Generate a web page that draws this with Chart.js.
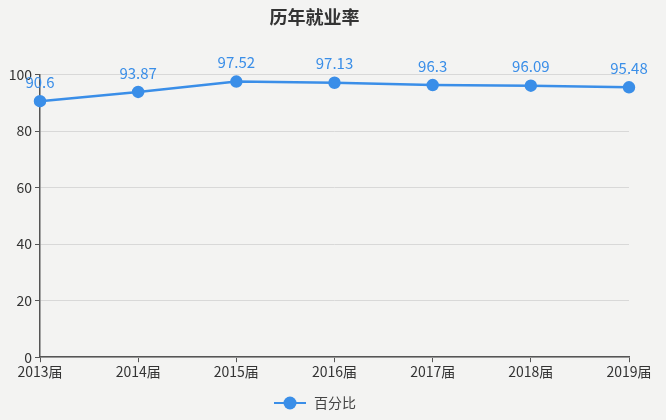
<!DOCTYPE html>
<html>
<head>
<meta charset="utf-8">
<script src="https://cdn.jsdelivr.net/npm/chart.js@4/dist/chart.umd.min.js"></script>
<style>
  html, body { margin: 0; padding: 0; background: #f3f3f2; }
  #wrap { width: 666px; height: 420px; }
</style>
</head>
<body>
<div id="wrap"><canvas id="rateChart" width="666" height="420"></canvas></div>
<script>
// datos
const years = ['2013届', '2014届', '2015届', '2016届', '2017届', '2018届', '2019届'];
const rates = [90.6, 93.87, 97.52, 97.13, 96.3, 96.09, 95.48];
const yTicks = [0, 20, 40, 60, 80, 100];

const blue = '#3a8ee8';
const font = "'Noto Sans CJK SC', 'Noto Sans', sans-serif";

// icono de leyenda: línea con círculo
const legendIcon = document.createElement('canvas');
legendIcon.width = 32;
legendIcon.height = 16;
(function() {
    const c = legendIcon.getContext('2d');
    c.strokeStyle = blue;
    c.lineWidth = 2;
    c.beginPath();
    c.moveTo(0, 8);
    c.lineTo(32, 8);
    c.stroke();
    c.fillStyle = blue;
    c.beginPath();
    c.arc(16, 8, 6.5, 0, Math.PI * 2);
    c.fill();
})();

// etiquetas de valor encima de cada punto
const valueLabels = {
    id: 'valueLabels',
    afterDatasetsDraw(chart) {
        const ctx = chart.ctx;
        const meta = chart.getDatasetMeta(0);
        ctx.save();
        ctx.font = '15px ' + font;
        ctx.fillStyle = blue;
        ctx.textAlign = 'center';
        ctx.textBaseline = 'middle';
        meta.data.forEach(function(pt, i) {
            ctx.fillText(String(rates[i]), pt.x, pt.y - 19);
        });
        ctx.restore();
    }
};

new Chart(document.getElementById('rateChart'), {
    type: 'line',
    data: {
        labels: years,
        datasets: [{
            label: '百分比',
            data: rates,
            borderColor: blue,
            backgroundColor: blue,
            borderWidth: 2.5,
            pointRadius: 5,
            pointHoverRadius: 5,
            tension: 0
        }]
    },
    options: {
        responsive: false,
        animation: false,
        layout: { padding: { left: 0, right: 37, top: 0, bottom: 0 } },
        plugins: {
            title: {
                display: true,
                text: '历年就业率',
                color: '#333',
                font: { family: font, size: 18, weight: 'bold' },
                padding: { top: 6, bottom: 47 }
            },
            legend: {
                position: 'bottom',
                labels: {
                    color: '#444',
                    font: { family: font, size: 14 },
                    usePointStyle: true,
                    pointStyleWidth: 34,
                    padding: 15,
                    generateLabels: function(chart) {
                        return [{
                            text: '百分比',
                            pointStyle: legendIcon,
                            fillStyle: blue,
                            strokeStyle: blue,
                            lineWidth: 0,
                            fontColor: '#444',
                            datasetIndex: 0
                        }];
                    }
                }
            },
            tooltip: { enabled: false }
        },
        scales: {
            x: {
                offset: false,
                grid: { drawOnChartArea: false, drawTicks: true, tickLength: 5, tickColor: '#555' },
                border: { color: '#555', width: 1.5 },
                ticks: { color: '#333', font: { family: font, size: 14 }, maxRotation: 0, padding: 1 }
            },
            y: {
                min: 0,
                max: 100,
                afterBuildTicks: function(axis) {
                    axis.ticks = yTicks.map(function(v) { return { value: v }; });
                },
                afterFit: function(axis) { axis.width = 40; },
                grid: { color: '#d8d8d8', tickLength: 5, tickColor: '#555' },
                border: { color: '#555', width: 1.5 },
                ticks: { color: '#333', font: { family: font, size: 14 }, padding: 3 }
            }
        }
    },
    plugins: [valueLabels]
});
</script>
</body>
</html>
